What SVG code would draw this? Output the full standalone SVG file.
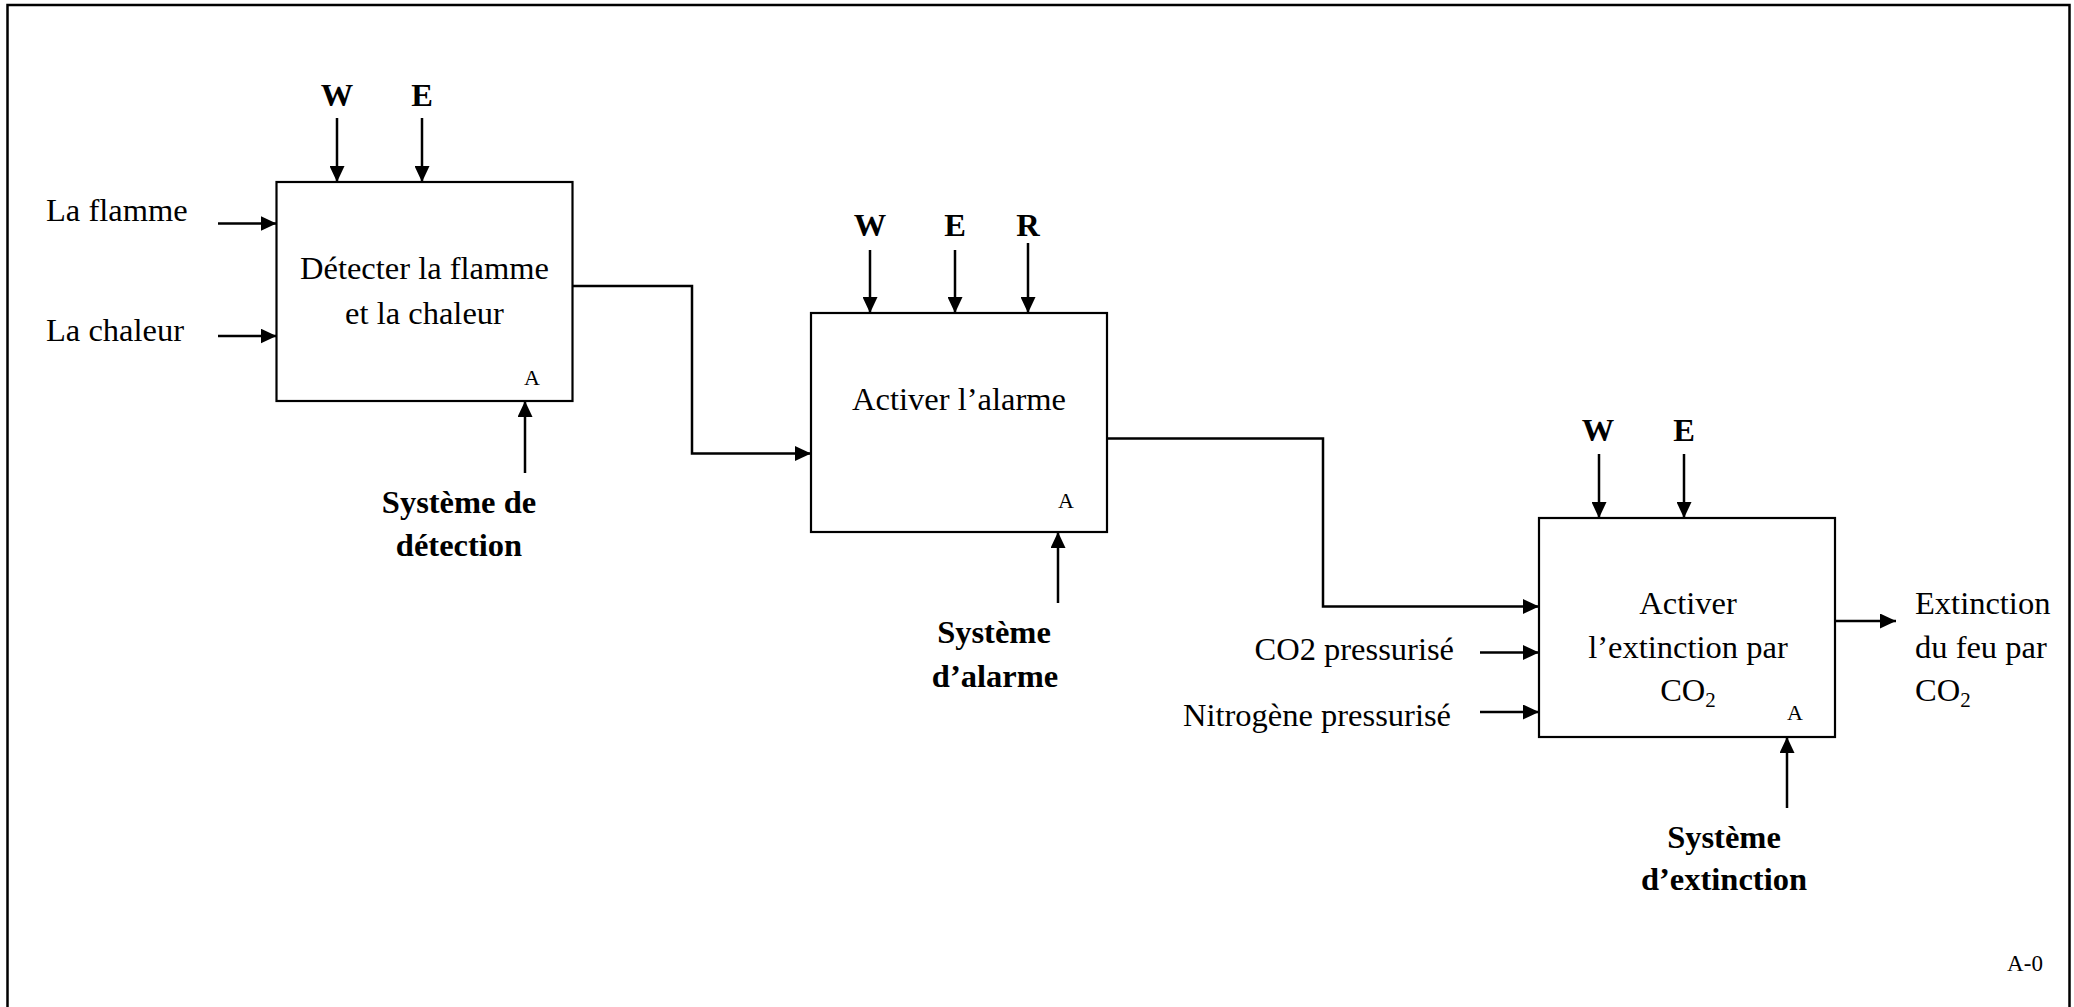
<svg xmlns="http://www.w3.org/2000/svg" width="2074" height="1007" viewBox="0 0 2074 1007">
  <style>
    .box { fill: #fff; stroke: #000; stroke-width: 2.2; }
    .wire { fill: none; stroke: #000; stroke-width: 2.5; marker-end: url(#arrow); }
    .lbl { font-family: "Liberation Serif", "Times New Roman", serif; font-size: 32.5px; fill: #000; }
    .bold { font-weight: bold; }
    .mid { text-anchor: middle; }
    .end { text-anchor: end; }
    .tag { font-family: "Liberation Serif", "Times New Roman", serif; font-size: 22px; fill: #000; text-anchor: middle; }
  </style>
  <defs>
    <marker id="arrow" markerUnits="userSpaceOnUse" markerWidth="16" markerHeight="15" refX="16" refY="7.5" orient="auto">
      <path d="M0,0 L16,7.5 L0,15 z" fill="#000"/>
    </marker>
  </defs>

  <rect width="2074" height="1007" fill="#fff"/>
  <!-- page frame (open at the bottom) -->
  <path d="M7.5,1012 V5 H2069.5 V1012" fill="none" stroke="#000" stroke-width="2.5"/>
  <text x="2025" y="971" class="lbl" style="font-size:23px" text-anchor="middle">A-0</text>

  <!-- A1: detection -->
  <g id="node-detecter">
    <rect class="box" x="276.5" y="182" width="296" height="219"/>
    <text class="lbl mid" x="424.5" y="279">Détecter la flamme</text>
    <text class="lbl mid" x="424.5" y="324">et la chaleur</text>
    <text class="tag" x="532" y="385">A</text>
  </g>

  <!-- A2: alarm -->
  <g id="node-alarme">
    <rect class="box" x="811" y="313" width="296" height="219"/>
    <text class="lbl mid" x="959" y="410">Activer l’alarme</text>
    <text class="tag" x="1066" y="508">A</text>
  </g>

  <!-- A3: extinction -->
  <g id="node-extinction">
    <rect class="box" x="1539" y="518" width="296" height="219"/>
    <text class="lbl mid" x="1688" y="614">Activer</text>
    <text class="lbl mid" x="1688" y="658">l’extinction par</text>
    <text class="lbl mid" x="1688" y="701">CO<tspan font-size="21" dy="6">2</tspan></text>
    <text class="tag" x="1795" y="720">A</text>
  </g>

  <!-- inputs, controls, mechanisms and outputs -->
  <g id="labels">
    <text class="lbl" x="46" y="221">La flamme</text>
    <text class="lbl" x="46" y="341">La chaleur</text>
    <text class="lbl bold mid" x="337" y="106">W</text>
    <text class="lbl bold mid" x="422" y="106">E</text>
    <text class="lbl bold mid" x="459" y="513">Système de</text>
    <text class="lbl bold mid" x="459" y="556">détection</text>

    <text class="lbl bold mid" x="870" y="236">W</text>
    <text class="lbl bold mid" x="955" y="236">E</text>
    <text class="lbl bold mid" x="1028" y="236">R</text>
    <text class="lbl bold mid" x="994" y="643">Système</text>
    <text class="lbl bold mid" x="995" y="687">d’alarme</text>

    <text class="lbl bold mid" x="1598" y="441">W</text>
    <text class="lbl bold mid" x="1684" y="441">E</text>
    <text class="lbl end" x="1454" y="660">CO2 pressurisé</text>
    <text class="lbl end" x="1451" y="726">Nitrogène pressurisé</text>
    <text class="lbl bold mid" x="1724" y="848">Système</text>
    <text class="lbl bold mid" x="1724" y="890">d’extinction</text>

    <text class="lbl" x="1915" y="614">Extinction</text>
    <text class="lbl" x="1915" y="658">du feu par</text>
    <text class="lbl" x="1915" y="701">CO<tspan font-size="21" dy="6">2</tspan></text>
  </g>

  <g id="connectors">
    <!-- A1 -->
    <path class="wire" d="M218,223.5 H276.5"/>
    <path class="wire" d="M218,336 H276.5"/>
    <path class="wire" d="M337,118 V182"/>
    <path class="wire" d="M422,118 V182"/>
    <path class="wire" d="M525,473 V401"/>
    <!-- A1 to A2 -->
    <path class="wire" d="M572.5,286 H692 V453.5 H811"/>
    <!-- A2 -->
    <path class="wire" d="M870,250 V313"/>
    <path class="wire" d="M955,250 V313"/>
    <path class="wire" d="M1028,243 V313"/>
    <path class="wire" d="M1058,603 V532"/>
    <!-- A2 to A3 -->
    <path class="wire" d="M1107,438.5 H1323 V606.5 H1539"/>
    <!-- A3 -->
    <path class="wire" d="M1599,454 V518"/>
    <path class="wire" d="M1684,454 V518"/>
    <path class="wire" d="M1480,652.5 H1539"/>
    <path class="wire" d="M1480,712 H1539"/>
    <path class="wire" d="M1787,808 V737"/>
    <path class="wire" d="M1835,621 H1896"/>
  </g>
</svg>
